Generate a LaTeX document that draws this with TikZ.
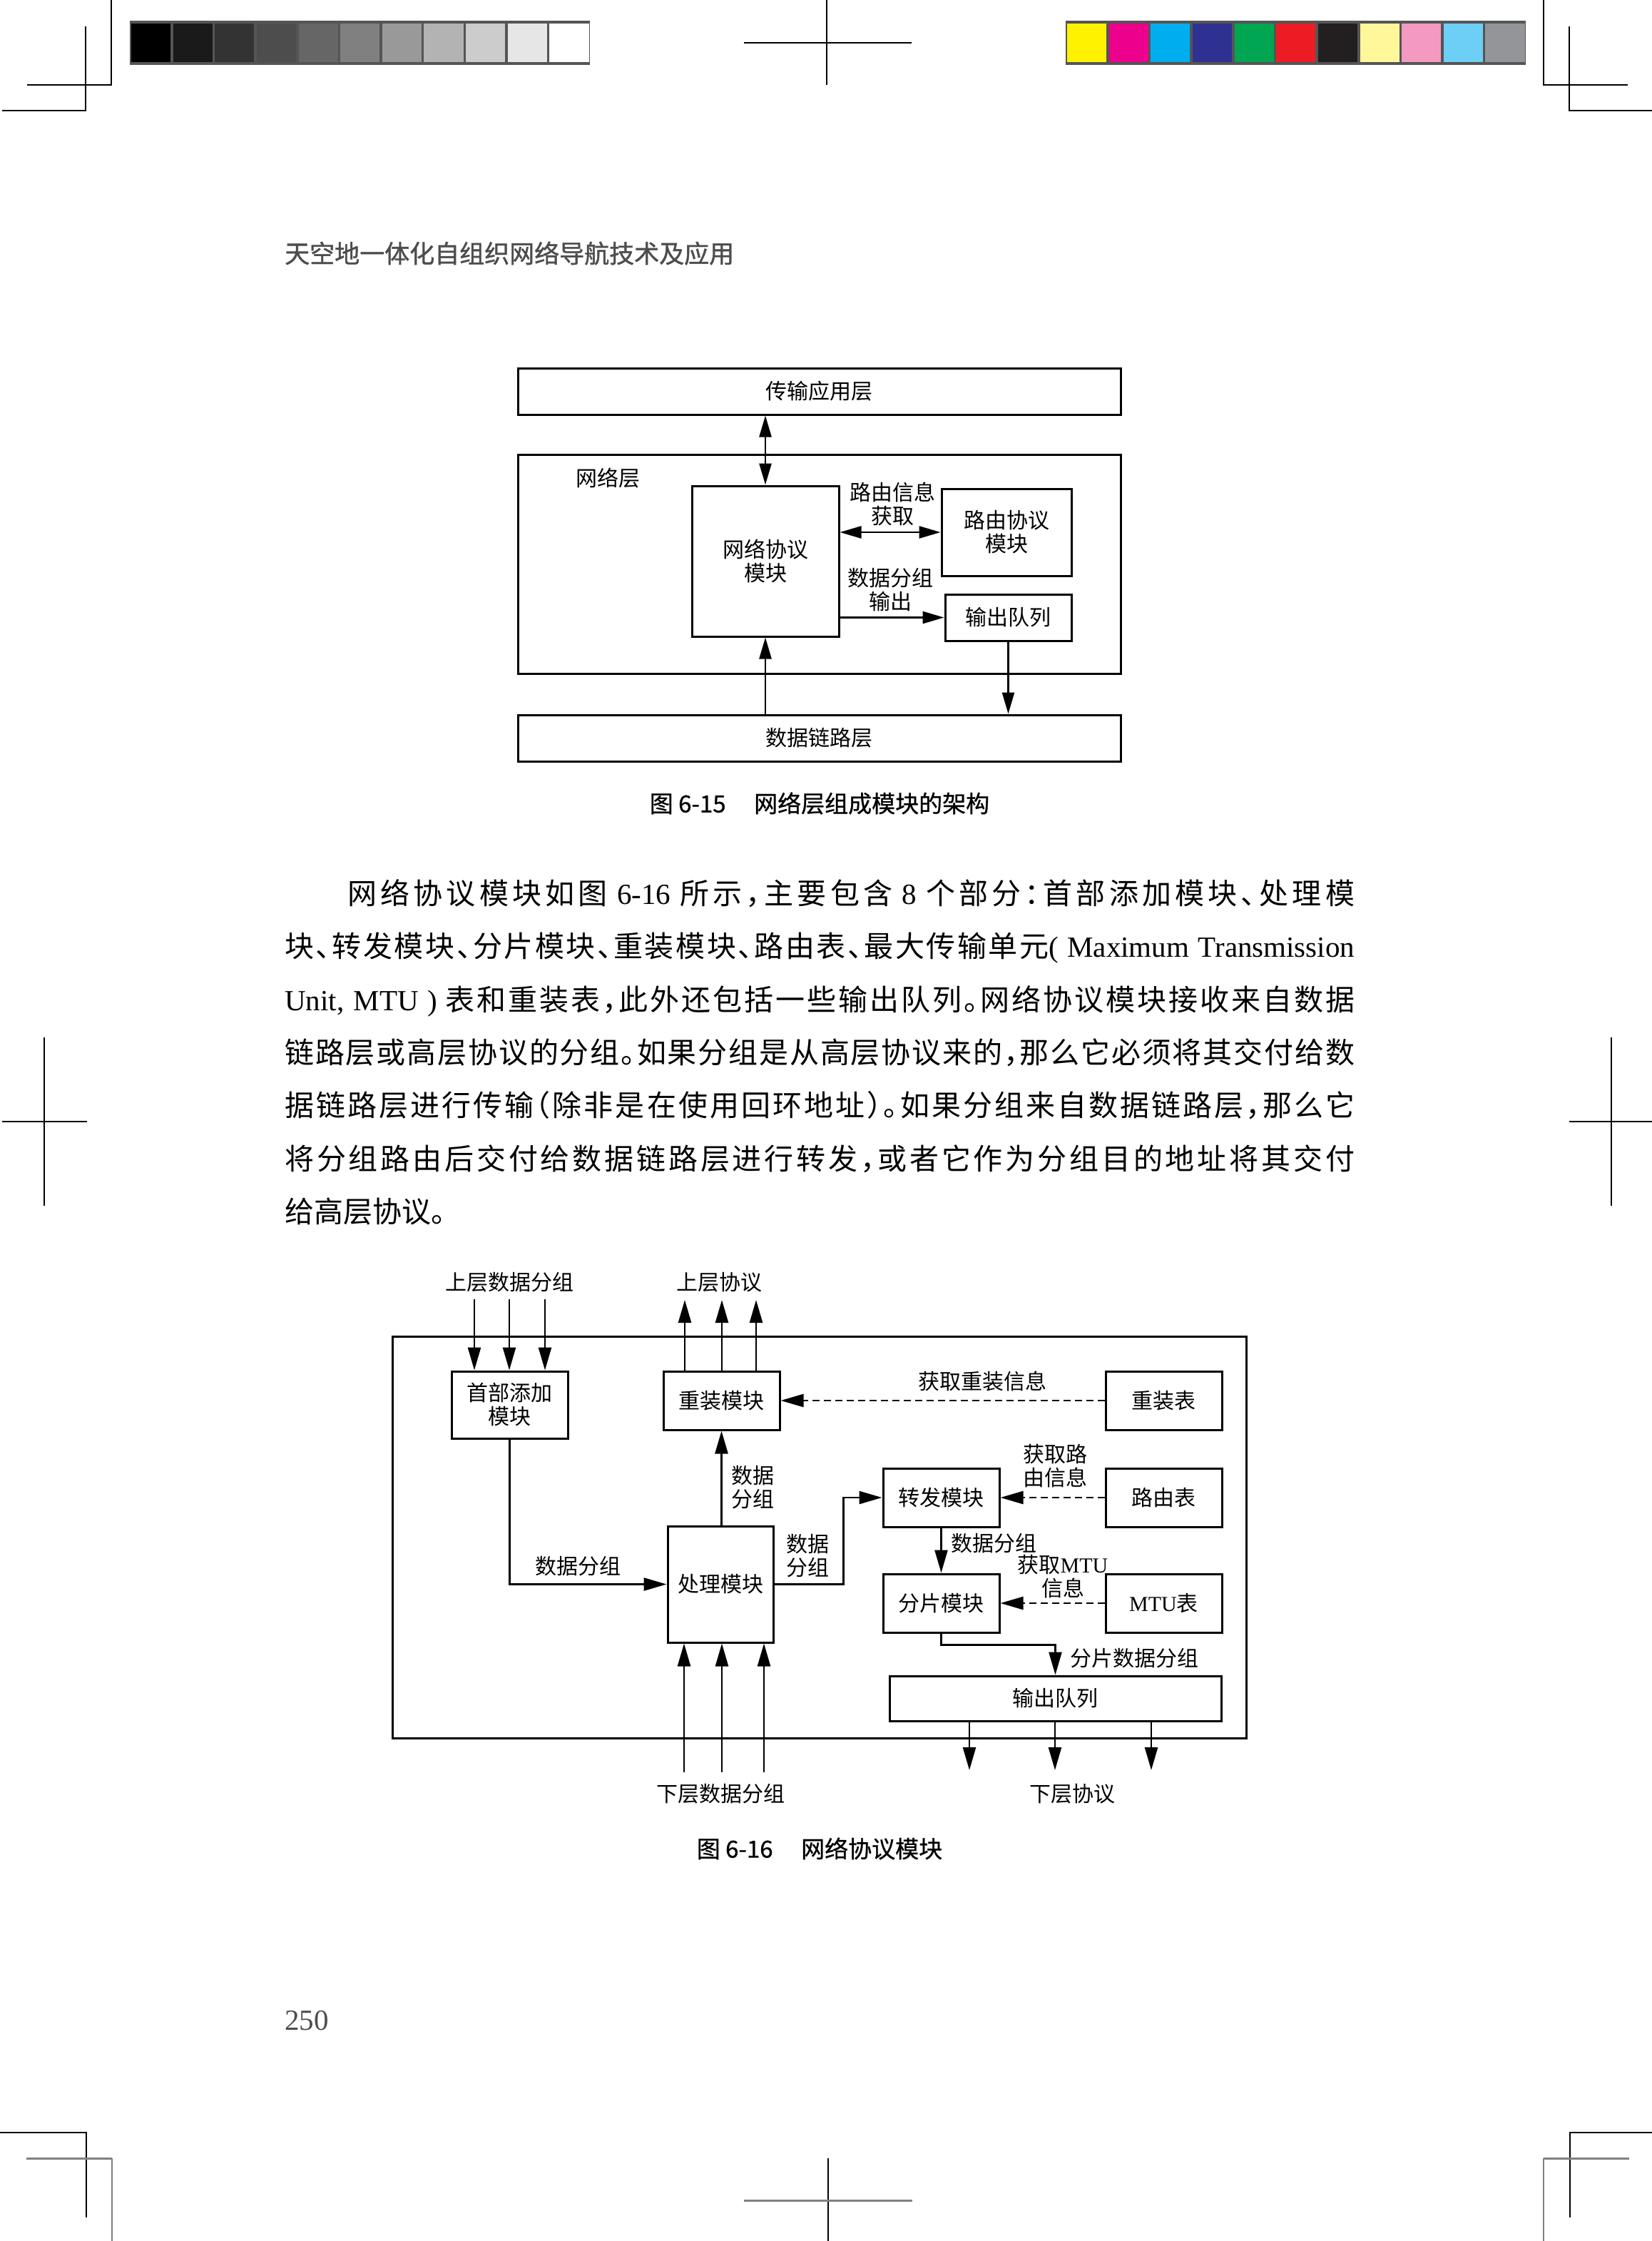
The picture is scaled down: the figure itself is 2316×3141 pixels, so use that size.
\documentclass[tikz,border=0pt]{standalone}
\usepackage{fontspec}
\setmainfont{Noto Sans CJK SC}
\newfontfamily\bodyf[Script=CJK,RawFeature=+halt]{Noto Sans CJK SC}
\newfontfamily\hdrf[FakeBold=1.2]{Noto Sans CJK SC}
\newfontfamily\capf[FakeBold=0.8]{Noto Sans CJK SC}
\newfontfamily\tms{Liberation Serif}
\usetikzlibrary{arrows.meta}
\XeTeXinterchartokenstate=1
\newcount\mycc
\mycc="4E00
\loop\XeTeXcharclass\mycc=7 \ifnum\mycc<"9FFF \advance\mycc by 1 \repeat
\XeTeXcharclass"3001=7 \XeTeXcharclass"3002=7 \XeTeXcharclass"FF08=7
\XeTeXcharclass"FF09=7 \XeTeXcharclass"FF0C=7 \XeTeXcharclass"FF1A=7
\XeTeXinterchartoks 7 7 = {\hskip 0pt plus 6pt minus 3pt}
\newcommand\myfigfont{\fontsize{30pt}{33pt}\selectfont}
\newcommand\mybodyfont{\bodyf\fontsize{41pt}{41pt}\selectfont}
\definecolor{hdrgray}{HTML}{4D4D4D}
\definecolor{barframe}{HTML}{555555}
\tikzset{
 blk/.style={draw, line width=3pt, inner sep=0pt, align=center, font=\myfigfont},
 lbl/.style={inner sep=0pt, align=center, font=\myfigfont},
 ar/.style={line width=2.5pt, -{Triangle[length=30pt,width=17pt]}},
 dar/.style={line width=2.5pt, {Triangle[length=30pt,width=17pt]}-{Triangle[length=30pt,width=17pt]}},
 dsh/.style={ar, dash pattern=on 10pt off 6pt},
 pm/.style={line width=2pt, black},
 pmg/.style={line width=3pt, gray},
 bodyline/.style={anchor=base west, inner sep=0pt, font=\mybodyfont},
 captxt/.style={inner sep=0pt, font=\capf\fontsize{33pt}{33pt}\selectfont}
}
\begin{document}
\begin{tikzpicture}[x=1pt,y=-1pt]
\useasboundingbox (0,0) rectangle (2316,3141);
\fill[white] (0,0) rectangle (2316,3141);

% ---------- printer marks ----------
\draw[pm] (156,0) -- (156,119) -- (38,119);
\draw[pm] (120,37) -- (120,155) -- (3,155);
\draw[pm] (1159,0) -- (1159,119);
\draw[pm] (1043,60) -- (1278,60);
\draw[pm] (2164,0) -- (2164,119) -- (2282,119);
\draw[pm] (2200,37) -- (2200,155) -- (2316,155);
\draw[pm] (62,1454) -- (62,1690);
\draw[pm] (3,1572) -- (122,1572);
\draw[pm] (2259,1454) -- (2259,1690);
\draw[pm] (2200,1572) -- (2316,1572);
\draw[pm] (0,2989) -- (121,2989) -- (121,3108);
\draw[pmg] (37,3025) -- (157,3025);
\draw[line width=1.2pt, gray] (157,3025) -- (157,3141);
\draw[line width=1.2pt] (1161,3025) -- (1161,3141);
\draw[pmg] (1043,3084) -- (1279,3084);
\draw[pm] (2316,2989) -- (2201,2989) -- (2201,3108);
\draw[pmg] (2164,3025) -- (2284,3025);
\draw[line width=1.2pt, gray] (2164,3025) -- (2164,3141);

% ---------- colour bars ----------
\fill[barframe] (182,29) rectangle (827,91);
\foreach \g [count=\i from 0] in {000000,1A1A1A,333333,4D4D4D,666666,808080,999999,B3B3B3,CCCCCC,E6E6E6,FFFFFF}{
  \definecolor{tmpc}{HTML}{\g}
  \fill[tmpc] ({184+\i*58.64},33) rectangle ({180.5+(\i+1)*58.64},87);
}
\fill[barframe] (1494,29) rectangle (2139,91);
\foreach \g [count=\i from 0] in {FFF200,EC008C,00AEEF,2E3192,00A651,ED1C24,231F20,FFF799,F49AC1,6DCFF6,939598}{
  \definecolor{tmpc}{HTML}{\g}
  \fill[tmpc] ({1496+\i*58.64},33) rectangle ({1492.5+(\i+1)*58.64},87);
}

% ---------- running header ----------
\node[anchor=west, inner sep=0pt, text=hdrgray, font=\hdrf\fontsize{35pt}{35pt}\selectfont] (header) at (399,355) {天空地一体化自组织网络导航技术及应用};

% ---------- Figure 6-15 ----------
\node[blk, minimum width=845pt, minimum height=65pt] (app) at (1148.5,548.5) {传输应用层};
\node[blk, minimum width=845pt, minimum height=307pt] (net) at (1148.5,790.5) {};
\node[lbl] (netlbl) at (852,670) {网络层};
\node[blk, minimum width=206pt, minimum height=211pt] (npm) at (1073,786.5) {网络协议\\模块};
\node[blk, minimum width=182pt, minimum height=122pt] (rpm) at (1411,746) {路由协议\\模块};
\node[blk, minimum width=177pt, minimum height=65pt] (oq) at (1413.5,865.5) {输出队列};
\node[blk, minimum width=845pt, minimum height=65pt] (dll) at (1148.5,1034.5) {数据链路层};
\draw[dar] (npm.north |- app.south) -- (npm.north);
\draw[ar] (npm.south |- dll.north) -- (npm.south);
\draw[ar] (oq.south) -- (oq.south |- dll.north);
\draw[dar] (npm.east |- rpm.west) -- (rpm.west);
\draw[ar] (npm.east |- oq.west) -- (oq.west);
\node[lbl] (l1) at (1251,706) {路由信息\\获取};
\node[lbl] (l2) at (1248,827) {数据分组\\输出};
\node[captxt] (cap15) at (1149,1126) {图 6-15\hspace{1.2em}网络层组成模块的架构};

% ---------- body text ----------
\node[bodyline] (p1) at (487,1267) {\hbox to 1412pt{网络协议模块如图 {\tms 6-16} 所示，主要包含 {\tms 8} 个部分：首部添加模块、处理模}};
\node[bodyline] (p2) at (399,1341) {\hbox to 1500pt{块、转发模块、分片模块、重装模块、路由表、最大传输单元{\tms( Maximum Transmission}}};
\node[bodyline] (p3) at (399,1416) {\hbox to 1500pt{{\tms Unit, MTU )} 表和重装表，此外还包括一些输出队列。网络协议模块接收来自数据}};
\node[bodyline] (p4) at (399,1490) {\hbox to 1500pt{链路层或高层协议的分组。如果分组是从高层协议来的，那么它必须将其交付给数}};
\node[bodyline] (p5) at (399,1564) {\hbox to 1500pt{据链路层进行传输（除非是在使用回环地址）。如果分组来自数据链路层，那么它}};
\node[bodyline] (p6) at (399,1639) {\hbox to 1500pt{将分组路由后交付给数据链路层进行转发，或者它作为分组目的地址将其交付}};
\node[bodyline] (p7) at (399,1713) {给高层协议。};

% ---------- Figure 6-16 ----------
\begin{scope}[ar/.style={line width=2.5pt, -{Triangle[length=32pt,width=18pt]}},
              dsh/.style={line width=2.5pt, dash pattern=on 10pt off 6pt, -{Triangle[length=32pt,width=18pt]}}]
\node[blk, minimum width=1197pt, minimum height=563pt] (frame) at (1148.5,2154.5) {};
\node[blk, minimum width=163pt, minimum height=94pt] (hdr) at (714.5,1969) {首部添加\\模块};
\node[blk, minimum width=163pt, minimum height=82pt] (rsm) at (1011.5,1963) {重装模块};
\node[blk, minimum width=163pt, minimum height=82pt] (rst) at (1631.5,1963) {重装表};
\node[blk, minimum width=163pt, minimum height=82pt] (fwd) at (1319.5,2099) {转发模块};
\node[blk, minimum width=163pt, minimum height=82pt] (rt) at (1631.5,2099) {路由表};
\node[blk, minimum width=148pt, minimum height=163pt] (proc) at (1010,2220.5) {处理模块};
\node[blk, minimum width=163pt, minimum height=82pt] (frag) at (1319.5,2247) {分片模块};
\node[blk, minimum width=163pt, minimum height=82pt] (mtu) at (1631.5,2247) {{\tms MTU}表};
\node[blk, minimum width=465pt, minimum height=63pt] (oq2) at (1479.5,2380.5) {输出队列};

\coordinate (ui1) at (665,1821);
\coordinate (ui2) at (714,1821);
\coordinate (ui3) at (764,1821);
\foreach \c in {ui1,ui2,ui3} \draw[ar] (\c) -- (\c |- hdr.north);
\node[lbl] (uilbl) at (714,1797) {上层数据分组};

\coordinate (uo1) at (960,1822);
\coordinate (uo2) at (1012,1822);
\coordinate (uo3) at (1060,1822);
\foreach \c in {uo1,uo2,uo3} \draw[ar] (\c |- rsm.north) -- (\c);
\node[lbl] (uolbl) at (1008,1797) {上层协议};

\draw[dsh] (rst.west) -- (rsm.east);
\node[lbl] (g1) at (1377,1936) {获取重装信息};

\draw[ar] (rsm.south |- proc.north) -- (rsm.south);
\node[lbl] (g2) at (1055,2085) {数据\\分组};

\draw[ar] (hdr.south) |- (proc.west);
\node[lbl] (g3) at (810,2195) {数据分组};

\draw[ar] (proc.east) -- ++(97,0) |- (fwd.west);
\node[lbl] (g4) at (1132,2181) {数据\\分组};

\draw[dsh] (rt.west) -- (fwd.east);
\node[lbl] (g5) at (1479,2055) {获取路\\由信息};

\draw[ar] (fwd.south) -- (frag.north);
\node[lbl] (g6) at (1393,2163) {数据分组};

\draw[dsh] (mtu.west) -- (frag.east);
\node[lbl] (g7) at (1490,2210) {获取{\tms MTU}\\信息};

\draw[ar] (frag.south) -- ++(0,16) -| (oq2.north);
\node[lbl] (g8) at (1590,2324) {分片数据分组};

\coordinate (di1) at (959,2484);
\coordinate (di2) at (1012,2484);
\coordinate (di3) at (1071,2484);
\foreach \c in {di1,di2,di3} \draw[ar] (\c) -- (\c |- proc.south);
\node[lbl] (dilbl) at (1010,2514) {下层数据分组};

\coordinate (do1) at (1359,2481);
\coordinate (do2) at (1479,2481);
\coordinate (do3) at (1614,2481);
\foreach \c in {do1,do2,do3} \draw[ar] (\c |- oq2.south) -- (\c);
\node[lbl] (dolbl) at (1503,2514) {下层协议};
\end{scope}
\node[captxt] (cap16) at (1149,2591) {图 6-16\hspace{1.2em}网络协议模块};

% ---------- page number ----------
\node[anchor=base west, inner sep=0pt, text=hdrgray, font=\tms\fontsize{41pt}{41pt}\selectfont] (pageno) at (399,2845) {250};
\end{tikzpicture}
\end{document}
